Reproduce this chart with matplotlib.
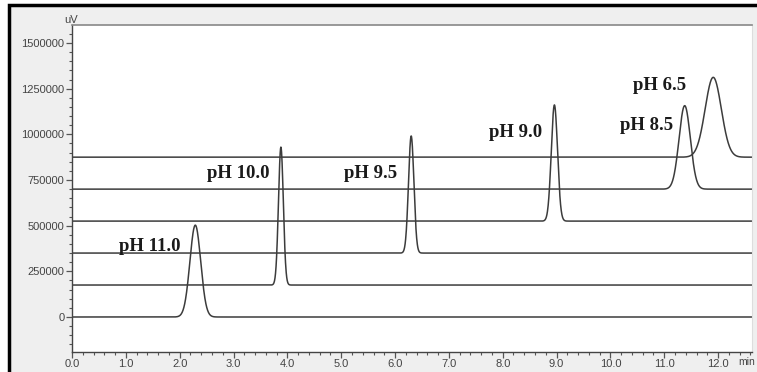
import numpy as np
import matplotlib
matplotlib.use("Agg")
import matplotlib.pyplot as plt
from matplotlib.patches import Rectangle
from matplotlib.ticker import MultipleLocator, FormatStrFormatter

# ---- data ----
labels = ["pH 11.0", "pH 10.0", "pH 9.5", "pH 9.0", "pH 8.5", "pH 6.5"]
baselines = [0, 175000, 350000, 525000, 700000, 875000]          # uV offset of each trace
peak_times = [2.29, 3.88, 6.30, 8.96, 11.38, 11.91]               # min
peak_heights = [503000, 755000, 641000, 636000, 457000, 437000]   # uV above baseline
peak_sigmas = [0.10, 0.045, 0.05, 0.058, 0.105, 0.15]             # min
label_x = [1.44, 3.08, 5.55, 8.24, 10.67, 10.91]
label_y = [388000, 788000, 788000, 1012000, 1051000, 1270000]

W, H = 757, 372
fig = plt.figure(figsize=(W / 100, H / 100), dpi=100, facecolor="white")
bg = Rectangle((9 / W, -0.1), 1.2, (H - 5) / H + 0.1,
               transform=fig.transFigure, facecolor="#efefef",
               edgecolor="black", lw=2.5, zorder=-5)
fig.patches.append(bg)

left, right = 72 / W, 752 / W
bottom, top = (H - 352) / H, (H - 25) / H
ax = fig.add_axes([left, bottom, right - left, top - bottom])
ax.set_zorder(2)
ax.set_facecolor("white")

t = np.linspace(0, 12.8, 4000)
line_color = "#3c3c3c"
for b, tp, h, s in zip(baselines, peak_times, peak_heights, peak_sigmas):
    y = b + h * np.exp(-0.5 * ((t - tp) / s) ** 2)
    ax.plot(t, y, color=line_color, lw=1.1, solid_joinstyle="round")

for lab, lx, ly in zip(labels, label_x, label_y):
    ax.text(lx, ly, lab, family="Liberation Serif", fontweight="bold",
            fontsize=13.5, ha="center", va="center", color="#1a1a1a")

ax.set_xlim(0, 12.63)
ax.set_ylim(-191600, 1598500)

ax.xaxis.set_major_locator(MultipleLocator(1.0))
ax.xaxis.set_minor_locator(MultipleLocator(0.2))
ax.xaxis.set_major_formatter(FormatStrFormatter("%.1f"))
ax.yaxis.set_major_locator(MultipleLocator(250000))
ax.yaxis.set_minor_locator(MultipleLocator(50000))
ax.yaxis.set_major_formatter(FormatStrFormatter("%d"))

tick_col = "#555555"
ax.tick_params(axis="both", which="major", direction="out", length=4, width=0.9,
               color=tick_col, labelsize=8, labelcolor="#444444", pad=1.5)
ax.tick_params(axis="both", which="minor", direction="out", length=2, width=0.8,
               color=tick_col)
ax.tick_params(axis="x", which="major", pad=1.0)
for lbl in ax.get_xticklabels() + ax.get_yticklabels():
    lbl.set_family("Liberation Sans")

for side in ["left", "bottom"]:
    ax.spines[side].set_color("#444444")
    ax.spines[side].set_linewidth(1.0)
ax.spines["top"].set_color("#888888")
ax.spines["top"].set_linewidth(1.2)
ax.spines["right"].set_color("#dddddd")
ax.spines["right"].set_linewidth(0.8)

fig.text(71 / W, (H - 20) / H, "uV", family="Liberation Sans", fontsize=8,
         color="#444444", ha="center", va="center")
fig.text(755 / W, (H - 362) / H, "min", family="Liberation Sans", fontsize=7.5,
         color="#444444", ha="right", va="center")

fig.savefig("out.png", dpi=100, facecolor=fig.get_facecolor())
